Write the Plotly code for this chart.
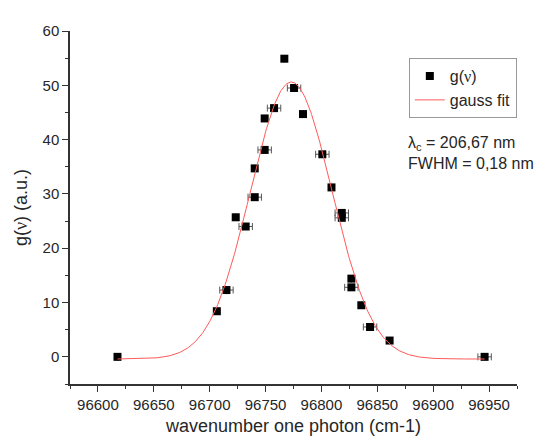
import numpy as np
import plotly.graph_objects as go

# measured data g(nu)
wavenumber = [96617.5, 96706.4, 96715.0, 96723.3, 96732.2, 96740.3, 96740.3, 96749.2, 96749.2,
              96757.6, 96766.8, 96775.5, 96783.5, 96800.8, 96809.0, 96818.2, 96818.2, 96826.8,
              96826.8, 96835.7, 96843.5, 96861.0, 96946.0]
g_values = [0.0, 8.4, 12.3, 25.7, 24.0, 34.7, 29.4, 43.9, 38.1,
            45.8, 54.9, 49.5, 44.7, 37.3, 31.2, 26.5, 25.6, 14.4,
            12.8, 9.5, 5.5, 3.0, 0.0]
x_errors = [0, 0, 6, 0, 6, 0, 6, 0, 6,
            6, 0, 6, 0, 6, 0, 6, 6, 0,
            6, 0, 6, 0, 6]

# gauss fit parameters
fit_center = 96773.0
fit_sigma = 36.5
fit_amplitude = 51.0
fit_offset = -0.4
fit_start, fit_end = 96617.5, 96946.0

x_tick_vals = [96600, 96650, 96700, 96750, 96800, 96850, 96900, 96950]
x_tick_text = ["96600", "96650", "96700", "96750", "96800", "96850", "96900", "96950"]
y_tick_vals = [0, 10, 20, 30, 40, 50, 60]
y_tick_text = ["0", "10", "20", "30", "40", "50", "60"]

fit_x = np.linspace(fit_start, fit_end, 400)
fit_y = fit_offset + fit_amplitude * np.exp(-(fit_x - fit_center) ** 2 / (2 * fit_sigma ** 2))

FONT = "Liberation Sans, Arial, sans-serif"
NU = '<span style="font-family:Liberation Serif, Times New Roman, serif">ν</span>'

fig = go.Figure()
fig.add_trace(go.Scatter(
    x=wavenumber, y=g_values, mode="markers", name=f"g({NU})",
    marker=dict(symbol="square", size=8, color="black"),
    error_x=dict(type="data", array=x_errors, visible=True, color="#555555",
                 thickness=1, width=3.5),
))
fig.add_trace(go.Scatter(
    x=fit_x, y=fit_y, mode="lines", name="gauss fit",
    line=dict(color="#ff5a5a", width=1),
))

axis_common = dict(
    showline=True, linecolor="#333333", linewidth=1.5, mirror=False,
    showgrid=False, zeroline=False, ticks="outside", ticklen=6, tickwidth=1.2,
    tickcolor="#333333", tickfont=dict(family=FONT, size=15, color="#262626"),
)

fig.update_layout(
    width=550, height=437,
    margin=dict(l=62, r=41, t=23, b=55),
    paper_bgcolor="white", plot_bgcolor="white",
    font=dict(family=FONT, color="#262626"),
    xaxis=dict(range=[96575, 96975], tickmode="array", tickvals=x_tick_vals, ticktext=x_tick_text,
               minor=dict(dtick=25, tick0=96575, ticks="outside", ticklen=3.5, tickcolor="#333333"),
               title=dict(text="wavenumber one photon (cm-1)", font=dict(size=18), standoff=8),
               **axis_common),
    yaxis=dict(range=[-5, 60], tickmode="array", tickvals=y_tick_vals, ticktext=y_tick_text,
               minor=dict(dtick=5, tick0=0, ticks="outside", ticklen=3.5, tickcolor="#333333"),
               title=dict(text=f"g({NU}) (a.u.)", font=dict(size=18), standoff=10),
               **axis_common),
    legend=dict(x=0.758, y=0.923, xanchor="left", yanchor="top",
                bordercolor="#999999", borderwidth=1, bgcolor="white",
                font=dict(family=FONT, size=16, color="#262626"),
                tracegroupgap=0, itemwidth=30),
    showlegend=True,
)

fig.add_annotation(x=0.752, y=0.680, xref="paper", yref="paper", xanchor="left", yanchor="middle",
                   text="λ<sub>c</sub> = 206,67 nm", showarrow=False,
                   font=dict(family=FONT, size=16, color="#262626"))
fig.add_annotation(x=0.752, y=0.626, xref="paper", yref="paper", xanchor="left", yanchor="middle",
                   text="FWHM = 0,18 nm", showarrow=False,
                   font=dict(family=FONT, size=16, color="#262626"))

fig.write_html("out.html")
